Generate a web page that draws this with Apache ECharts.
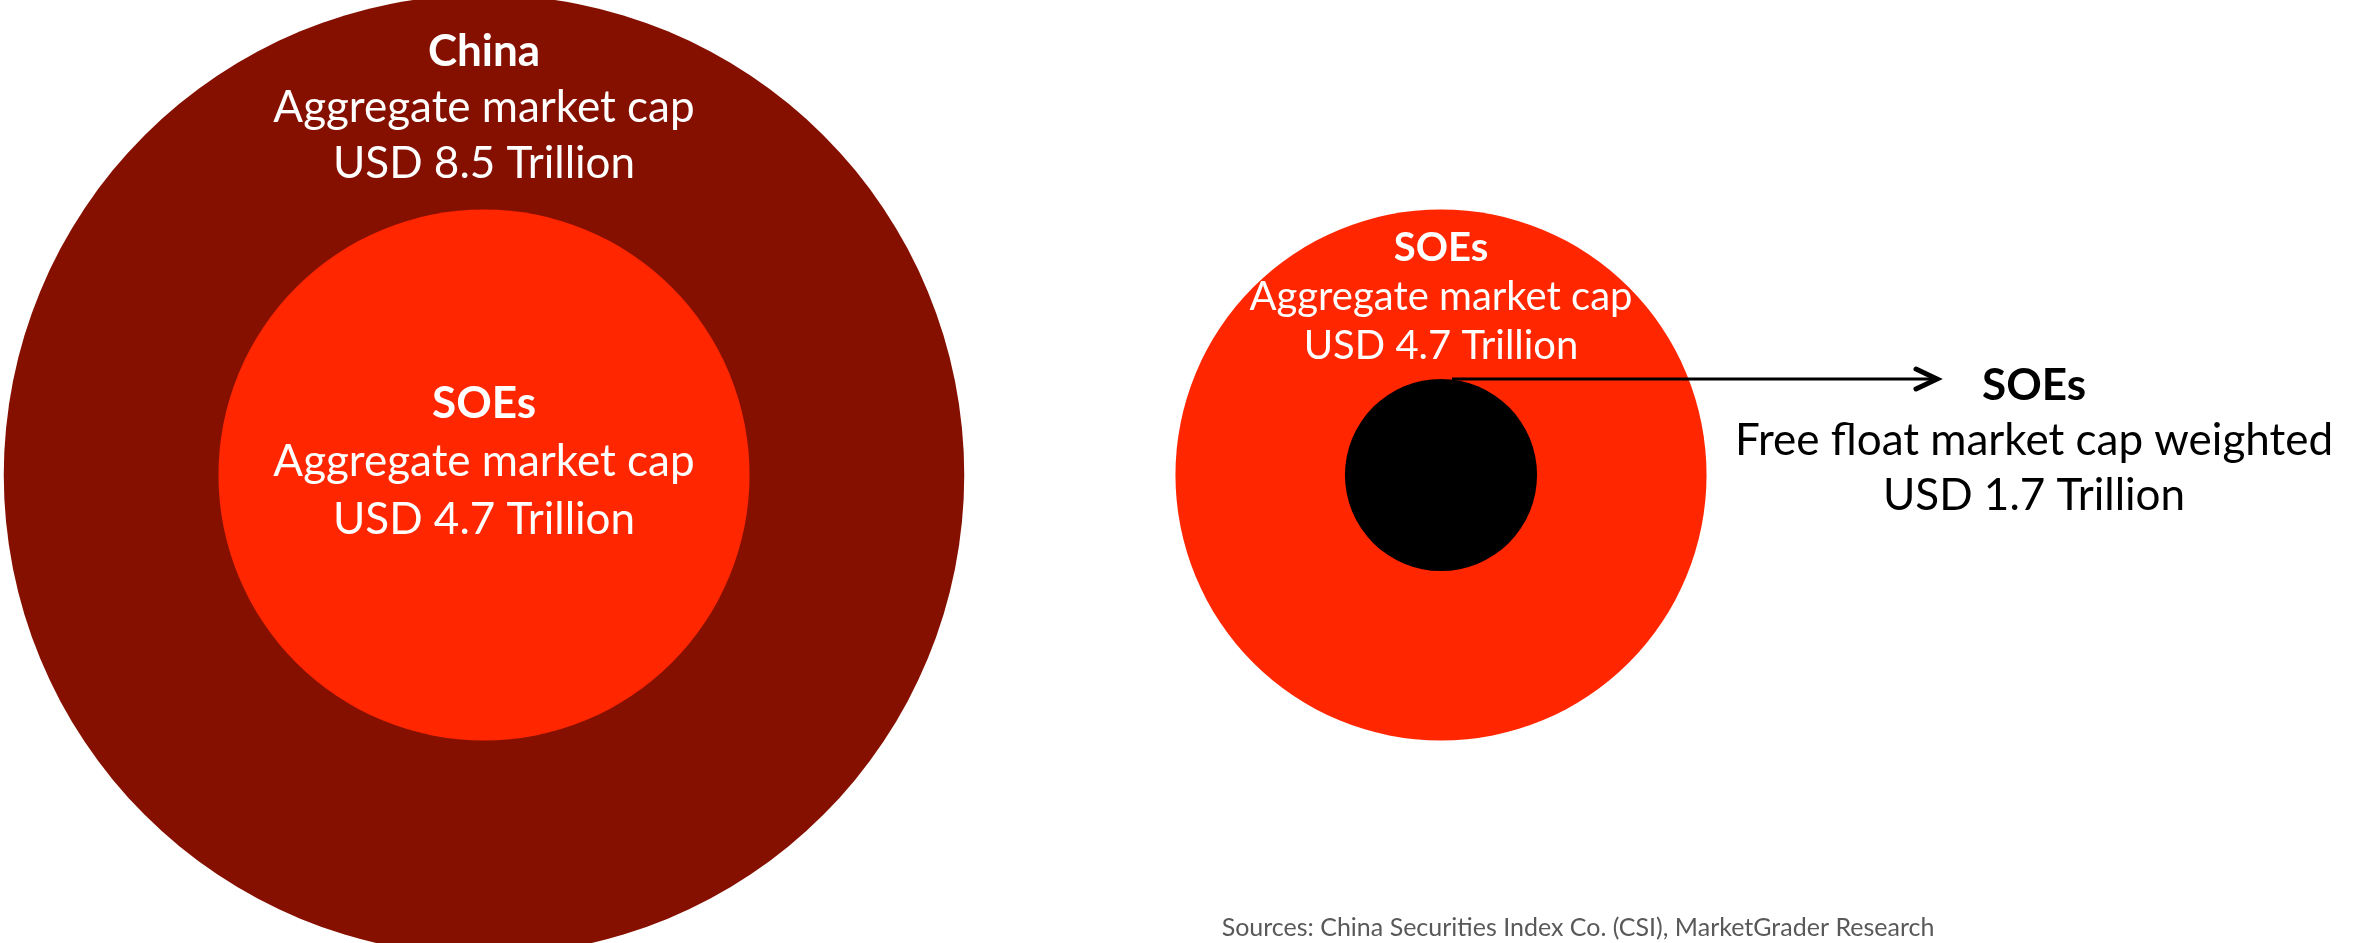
<!DOCTYPE html>
<html>
<head>
<meta charset="utf-8">
<title>China market cap vs SOEs</title>
<script src="https://cdn.jsdelivr.net/npm/echarts@6/dist/echarts.min.js"></script>
<style>
  html, body { margin: 0; padding: 0; background: #ffffff; }
  #chart { width: 2366px; height: 943px; }
</style>
</head>
<body>
<div id="chart"></div>
<script>
// Market capitalisation figures, USD trillions
const groupNames = ['China', 'SOEs', 'SOEs', 'SOEs'];
const capMeasures = ['Aggregate market cap', 'Aggregate market cap', 'Aggregate market cap', 'Free float market cap weighted'];
const capValues = [8.5, 4.7, 4.7, 1.7];
const sourceNote = 'Sources: China Securities Index Co. (CSI), MarketGrader Research';

// Layout (pixel space of the plotting grid)
const W = 2366, H = 943;
const PX_PER_TRILLION = 113;           // circle diameter per USD trillion
const circleCenters = [[484, 475], [484, 475], [1441, 475], [1441, 475]];
const circleColors = ['#861000', '#ff2600', '#ff2600', '#000000'];
const FONT = 'Lato, "Open Sans", sans-serif';

// Text blocks: position, font size, line height, colour, index into the data arrays
const textBlocks = [
  { pos: [484, 108], size: 44, lh: 56, color: '#ffffff', idx: 0 },
  { pos: [484, 462], size: 44, lh: 58, color: '#ffffff', idx: 1 },
  { pos: [1441, 297], size: 40, lh: 49, color: '#ffffff', idx: 2 },
  { pos: [2034, 441], size: 44, lh: 55, color: '#000000', idx: 3 }
];

function valueText(v) { return 'USD ' + v.toFixed(1) + ' Trillion'; }

const circleData = capValues.map((v, i) => ({
  name: groupNames[i],
  value: [circleCenters[i][0], circleCenters[i][1], v],
  itemStyle: { color: circleColors[i], opacity: 1 }
}));

const labelData = textBlocks.map(b => {
  const i = b.idx;
  return {
    value: b.pos,
    label: {
      show: true,
      position: 'inside',
      align: 'center',
      verticalAlign: 'middle',
      formatter: '{t|' + groupNames[i] + '}\n{c|' + capMeasures[i] + '}\n{c|' + valueText(capValues[i]) + '}',
      rich: {
        t: { fontFamily: FONT, fontSize: b.size, fontWeight: 'bold', color: b.color, lineHeight: b.lh, align: 'center' },
        c: { fontFamily: FONT, fontSize: b.size, color: b.color, lineHeight: b.lh, align: 'center' }
      }
    }
  };
});

// Arrow from the free-float circle to its description
const arrowStart = [1452, 379];
const arrowEnd = [1937, 379];

const chart = echarts.init(document.getElementById('chart'), null, { renderer: 'canvas' });
chart.setOption({
  animation: false,
  backgroundColor: '#ffffff',
  grid: { left: 0, right: 0, top: 0, bottom: 0 },
  xAxis: { type: 'value', min: 0, max: W, show: false },
  yAxis: { type: 'value', min: 0, max: H, inverse: true, show: false },
  series: [
    {
      type: 'scatter',
      name: 'market cap',
      symbol: 'circle',
      symbolSize: d => d[2] * PX_PER_TRILLION,
      itemStyle: { opacity: 1 },
      data: circleData,
      silent: true,
      z: 1
    },
    {
      type: 'custom',
      name: 'arrow',
      silent: true,
      z: 3,
      data: [[arrowStart[0], arrowStart[1], arrowEnd[0], arrowEnd[1]]],
      renderItem: (params, api) => {
        const p0 = api.coord([api.value(0), api.value(1)]);
        const p1 = api.coord([api.value(2), api.value(3)]);
        return {
          type: 'group',
          children: [
            {
              type: 'line',
              shape: { x1: p0[0], y1: p0[1], x2: p1[0] - 2, y2: p1[1] },
              style: { stroke: '#000000', lineWidth: 3 }
            },
            {
              type: 'polyline',
              shape: { points: [[p1[0] - 21, p1[1] - 10], [p1[0], p1[1]], [p1[0] - 21, p1[1] + 10]] },
              style: { stroke: '#000000', lineWidth: 5, fill: null, lineJoin: 'miter', lineCap: 'round' }
            }
          ]
        };
      }
    },
    {
      type: 'scatter',
      name: 'labels',
      symbolSize: 1,
      itemStyle: { color: 'rgba(0,0,0,0)', opacity: 1 },
      data: labelData,
      silent: true,
      z: 4
    },
    {
      type: 'scatter',
      name: 'source',
      symbolSize: 1,
      itemStyle: { color: 'rgba(0,0,0,0)', opacity: 1 },
      silent: true,
      z: 4,
      data: [{
        value: [1578, 928],
        label: {
          show: true, position: 'inside', align: 'center', verticalAlign: 'middle',
          formatter: sourceNote,
          fontFamily: FONT, fontSize: 25, color: '#595959'
        }
      }]
    }
  ]
});
</script>
</body>
</html>
